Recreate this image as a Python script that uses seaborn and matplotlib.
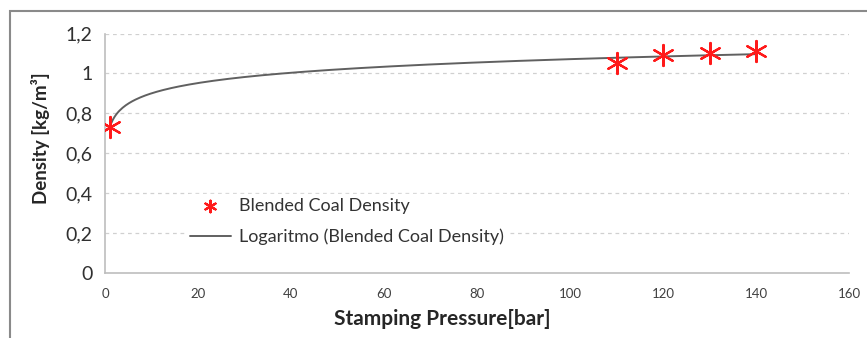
import numpy as np
import pandas as pd
import matplotlib
matplotlib.use("Agg")
import matplotlib.pyplot as plt
import seaborn as sns
from matplotlib.patches import Rectangle

pressure = [1, 110, 120, 130, 140]
density = [0.73, 1.05, 1.09, 1.10, 1.11]
x_ticks = [0, 20, 40, 60, 80, 100, 120, 140, 160]
y_ticks = [0, 0.2, 0.4, 0.6, 0.8, 1.0, 1.2]
y_tick_labels = ["0", "0,2", "0,4", "0,6", "0,8", "1", "1,2"]

sns.set_style("white")
plt.rcParams['font.family'] = ['Lato', 'DejaVu Sans']

df = pd.DataFrame({"Stamping Pressure": pressure, "Density": density})

# logarithmic trendline fitted from the data (as Excel does)
b, a = np.polyfit(np.log(df["Stamping Pressure"]), df["Density"], 1)
xs = np.linspace(min(pressure), max(pressure), 400)
trend = pd.DataFrame({"x": xs, "y": a + b * np.log(xs)})

fig = plt.figure(figsize=(8.67, 3.38), dpi=100)
ax = fig.add_axes([105/867, (338-273)/338, (849-105)/867, (273-33.5)/338])

for yv in y_ticks[1:]:
    ax.axhline(yv, color="#d0d0d0", lw=0.9, ls=(0, (3, 3)), zorder=0)

sns.lineplot(data=trend, x="x", y="y", ax=ax, color="#606060", lw=1.4,
             label="Logaritmo (Blended Coal Density)", zorder=2)
sns.scatterplot(data=df, x="Stamping Pressure", y="Density", ax=ax,
                marker=(6, 2, 0), s=230, color="#ff1a1a", linewidth=1.6,
                edgecolor="#ff1a1a", label="Blended Coal Density", zorder=3)

ax.set_xlim(0, 160)
ax.set_ylim(0, 1.2)
ax.set_xticks(x_ticks)
ax.set_xticklabels([str(t) for t in x_ticks], fontsize=9.5, color="#404040")
ax.set_yticks(y_ticks)
ax.set_yticklabels(y_tick_labels, fontsize=14, color="#303030")
ax.tick_params(axis="both", direction="out", length=4, width=0.8, color="#b0b0b0")
ax.tick_params(axis="x", pad=7)
ax.tick_params(axis="y", pad=5)
for side in ["top", "right"]:
    ax.spines[side].set_visible(False)
for side in ["left", "bottom"]:
    ax.spines[side].set_color("#bdbdbd")
    ax.spines[side].set_linewidth(1.2)
ax.set_xlabel("Stamping Pressure[bar]", fontsize=15, fontweight="bold")
ax.xaxis.set_label_coords(0.454, -0.150)
ax.set_ylabel("Density [kg/m³]", fontsize=13.5, fontweight="bold")
ax.yaxis.set_label_coords(-0.074, 0.564)

handles, labels = ax.get_legend_handles_labels()
order = [labels.index("Blended Coal Density"), labels.index("Logaritmo (Blended Coal Density)")]
leg = ax.legend([handles[i] for i in order], [labels[i] for i in order],
                loc="upper left", bbox_to_anchor=(0.109, 0.33), borderaxespad=0,
                frameon=True, fontsize=13, handlelength=2.3, handletextpad=0.45,
                labelspacing=0.85, borderpad=0.2, markerscale=0.55)
leg.get_frame().set_edgecolor("white")
leg.get_frame().set_facecolor("white")
leg.get_frame().set_alpha(1)
for t in leg.get_texts():
    t.set_color("#333333")

fig.patches.append(Rectangle((10/867, -0.1), 1.2, (338-11)/338 + 0.1,
                             transform=fig.transFigure, fill=False,
                             edgecolor="#8a8a8a", lw=1.5))

fig.savefig("out.png", dpi=100)
